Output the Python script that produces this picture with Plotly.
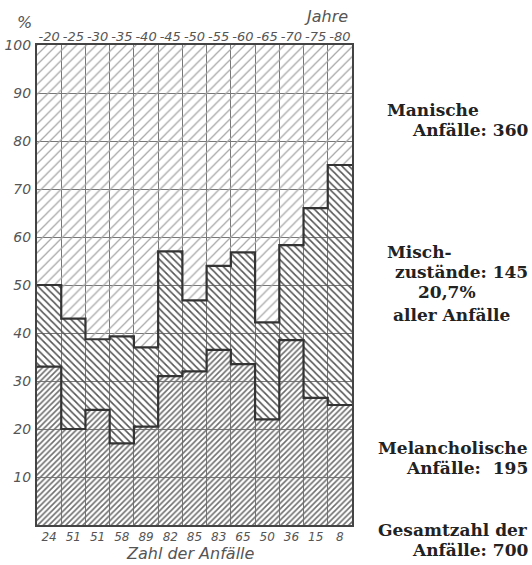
import plotly.graph_objects as go

# ---- data ----
age_groups = ["-20", "-25", "-30", "-35", "-40", "-45", "-50", "-55", "-60", "-65", "-70", "-75", "-80"]
attack_counts = ["24", "51", "51", "58", "89", "82", "85", "83", "65", "50", "36", "15", "8"]
melancholic_pct = [33.0, 20.0, 24.0, 17.0, 20.5, 31.0, 32.0, 36.5, 33.5, 22.0, 38.5, 26.5, 25.0]
mixed_pct = [17.0, 23.0, 14.7, 22.3, 16.5, 26.0, 14.8, 17.5, 23.3, 20.2, 19.8, 39.5, 50.0]
manic_pct = [50.0, 57.0, 61.3, 60.7, 63.0, 43.0, 53.2, 46.0, 43.2, 57.8, 41.7, 34.0, 25.0]
y_ticks = [10, 20, 30, 40, 50, 60, 70, 80, 90, 100]

n = len(age_groups)
centers = [i + 0.5 for i in range(n)]
edges = list(range(n + 1))

lab_font = dict(family="DejaVu Sans", size=13, color="#555", style="italic")
txt_font = dict(family="DejaVu Serif", size=17, color="#222", weight="bold")

fig = go.Figure()


def add_bar(vals, shape, fg, size, sol):
    fig.add_trace(go.Bar(
        x=centers, y=vals, width=1.0,
        marker=dict(color="rgba(0,0,0,0)", line=dict(width=0),
                    pattern=dict(shape=shape, fgcolor=fg, bgcolor="rgba(0,0,0,0)",
                                 size=size, solidity=sol, fillmode="replace")),
        showlegend=False, hoverinfo="skip"))


add_bar(melancholic_pct, "/", "#6e6e6e", 4, 0.4)
add_bar(mixed_pct, "\\", "#555555", 5, 0.32)
add_bar(manic_pct, "/", "#a8a8a8", 7, 0.18)

# boundary step lines
b1 = list(melancholic_pct)
b2 = [a + b for a, b in zip(melancholic_pct, mixed_pct)]
for b in (b1, b2):
    fig.add_trace(go.Scatter(x=edges, y=b + [b[-1]], mode="lines", line_shape="hv",
                             line=dict(color="#333", width=2.2),
                             showlegend=False, hoverinfo="skip"))

# invisible trace for the top axis
fig.add_trace(go.Scatter(x=centers, y=[None] * n, xaxis="x2", mode="markers",
                         showlegend=False, hoverinfo="skip"))

fig.update_layout(
    width=532, height=565,
    margin=dict(l=37, r=180, t=45, b=40, autoexpand=False),
    paper_bgcolor="white", plot_bgcolor="white",
    barmode="stack", bargap=0,
    xaxis=dict(range=[0, n], tickmode="array", tickvals=centers, ticktext=attack_counts,
               showgrid=False, zeroline=False, ticks="", tickfont=dict(lab_font, size=12),
               showline=True, linecolor="#444", linewidth=2, mirror=True,
               ticklabelstandoff=0, automargin=False,
               minor=dict(tickmode="linear", tick0=0, dtick=1, showgrid=True,
                          gridcolor="#777", gridwidth=1, ticks="")),
    xaxis2=dict(range=[0, n], overlaying="x", side="top", anchor="y",
                tickmode="array", tickvals=centers, ticktext=age_groups,
                showgrid=False, zeroline=False, ticks="", tickfont=lab_font,
                ticklabelstandoff=0, automargin=False),
    yaxis=dict(range=[0, 100], tickmode="array", tickvals=y_ticks,
               showgrid=True, gridcolor="#777", gridwidth=1, zeroline=False,
               ticks="", tickfont=dict(lab_font, size=14), ticklabelstandoff=1, automargin=False,
               showline=True, linecolor="#444", linewidth=2, mirror=True),
)

W, H, L, T = 315, 480, 37, 45


def px(xp):
    return (xp - L) / W


def py(yp):
    return (T + H - yp) / H


ann = []
ann.append(dict(text="%", x=px(24), y=py(22), xanchor="center", yanchor="middle",
                font=dict(lab_font, size=16)))
ann.append(dict(text="Jahre", x=px(326), y=py(17), xanchor="center", yanchor="middle",
                font=dict(lab_font, size=16)))
ann.append(dict(text="Zahl der Anfälle", x=px(190), y=py(553), xanchor="center", yanchor="middle",
                font=dict(lab_font, size=16)))

right_lines = [
    ("Manische", 385, 110, "left"),
    ("Anfälle: 360", 530, 130, "right"),
    ("Misch-", 385, 252, "left"),
    ("zustände: 145", 530, 272, "right"),
    ("20,7%", 447, 292, "center"),
    ("aller Anfälle", 451, 315, "center"),
    ("Melancholische", 530, 448, "right"),
    ("Anfälle:  195", 530, 468, "right"),
    ("Gesamtzahl der", 530, 530, "right"),
    ("Anfälle: 700", 530, 550, "right"),
]
for t, x, y, a in right_lines:
    ann.append(dict(text=t, x=px(x), y=py(y), xanchor=a, yanchor="middle", font=txt_font))

for a in ann:
    a.update(xref="paper", yref="paper", showarrow=False)
fig.update_layout(annotations=ann)

fig.write_html("out.html", config={"displayModeBar": False},
               post_script="document.body.style.margin='0px';")
